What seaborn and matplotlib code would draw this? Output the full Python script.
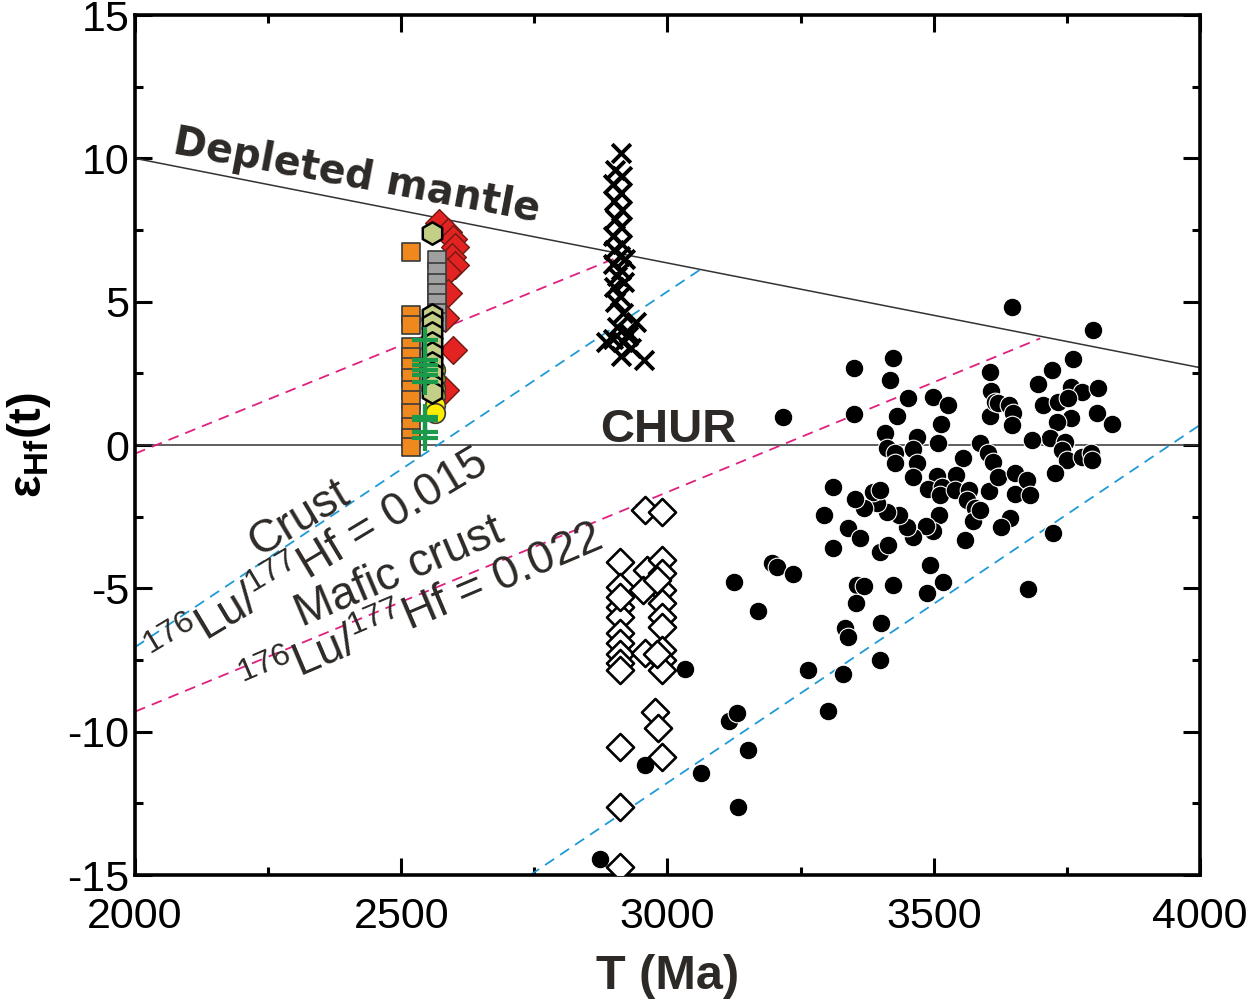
import numpy as np
import pandas as pd
import matplotlib
matplotlib.use("Agg")
import matplotlib.pyplot as plt
import seaborn as sns

# ---- reference curves (age in Ma, epsilon Hf) ----
dm_x = [2000, 4000]
dm_y = [10.0, 2.7]
chur_x = [2000, 4000]
chur_y = [0.0, 0.0]
crust_hi_x = [2000, 3060]
crust_hi_y = [-7.05, 6.1]
crust_lo_x = [2742, 4000]
crust_lo_y = [-15.0, 0.7]
mafic_hi_x = [2000, 2900]
mafic_hi_y = [-0.3, 6.5]
mafic_lo_x = [2000, 3700]
mafic_lo_y = [-9.3, 3.72]

# ---- detrital / inherited zircons (filled circles) ----
circ_x = [3350, 3424, 3418, 3217, 3350, 3452, 3499, 3527, 3431, 3514, 3408, 3468, 3508, 3412,
          3427, 3461, 3427, 3468, 3461, 3555, 3542, 3587, 3606, 3607, 3606, 3615, 3602, 3611,
          3623, 3604, 3506, 3489, 3515, 3512, 3540, 3566, 3562, 3577, 3574, 3559, 3510, 3499,
          3486, 3461, 3450, 3435, 3412, 3393, 3386, 3399, 3369, 3352, 3311, 3294, 3339, 3362,
          3311, 3399, 3414, 3196, 3206, 3236, 3356, 3369, 3424, 3493, 3517, 3487, 3354, 3170,
          3333, 3401,
          3647, 3799, 3761, 3722, 3696, 3758, 3778, 3808, 3705, 3733, 3752, 3758, 3731, 3806,
          3835, 3621, 3641, 3649, 3647, 3718, 3746, 3684, 3741, 3750, 3778, 3795, 3797, 3728,
          3621, 3653, 3653, 3675, 3681, 3643, 3626, 3724, 3677, 3587,
          2873, 2958, 3033, 3063, 3116, 3130, 3151, 3132, 3125, 3264, 3301, 3339, 3399, 3330]
circ_y = [2.69, 3.04, 2.27, 0.98, 1.08, 1.64, 1.68, 1.40, 1.01, 0.73, 0.42, 0.28, 0.07, -0.10,
          -0.28, -0.14, -0.63, -0.63, -1.11, -0.45, -1.04, 0.07, 2.55, 1.89, 1.01, 1.50, -0.28, -0.59,
          -1.11, -1.60, -1.08, -1.53, -1.46, -1.74, -1.57, -1.57, -1.92, -2.20, -2.65, -3.31, -2.44, -3.00,
          -2.82, -3.21, -2.86, -2.44, -2.34, -2.02, -1.64, -1.57, -2.20, -1.88, -1.46, -2.44, -2.89, -3.24,
          -3.59, -3.73, -3.49, -4.11, -4.25, -4.50, -4.88, -4.92, -4.88, -4.18, -4.78, -5.16, -5.51, -5.79,
          -6.38, -6.21,
          4.82, 4.01, 3.00, 2.62, 2.13, 2.03, 1.85, 1.99, 1.40, 1.50, 1.64, 0.94, 0.80, 1.12,
          0.73, 1.47, 1.40, 1.12, 0.70, 0.25, 0.11, 0.18, -0.17, -0.52, -0.42, -0.28, -0.52, -0.98,
          -1.11, -0.98, -1.71, -1.22, -1.74, -2.55, -2.86, -3.07, -5.02, -2.27,
          -14.44, -11.16, -7.81, -11.44, -9.63, -9.35, -10.64, -12.62, -4.78, -7.85, -9.28, -6.70, -7.50, -7.98]

# ---- open diamonds ----
odia_x = [2958, 2990, 2911, 2962, 2990, 2911, 2911, 2911, 2911, 2911, 2911, 2911, 2911, 2911,
          2990, 2990, 2990, 2990, 2990, 2990, 2990, 2990, 2954, 2980, 2958, 2980,
          2976, 2982, 2990, 2911, 2911, 2911]
odia_y = [-2.27, -2.34, -4.08, -4.36, -4.01, -4.95, -5.65, -6.00, -6.56, -6.90, -7.30, -7.60, -7.85, -5.30,
          -4.46, -5.06, -5.51, -6.00, -6.35, -7.15, -7.50, -7.85, -5.06, -4.70, -7.25, -7.30,
          -9.30, -9.87, -10.88, -10.53, -12.62, -14.72]

# ---- crosses ----
cross_x = [2912, 2902, 2915, 2898, 2912, 2900, 2915, 2902, 2912, 2898, 2915, 2900, 2910, 2920,
           2898, 2912, 2905, 2918, 2900, 2910, 2902, 2916, 2940, 2905, 2928, 2898, 2916, 2932,
           2912, 2955, 2885, 2925]
cross_y = [10.2, 9.6, 9.4, 9.1, 8.8, 8.5, 8.2, 7.9, 7.6, 7.3, 7.0, 6.8, 6.6, 6.5,
           6.3, 6.1, 5.9, 5.7, 5.5, 5.2, 5.0, 4.6, 4.3, 4.1, 3.9, 3.7, 3.6, 3.4,
           3.1, 2.95, 3.6, 3.8]

# ---- ~2.55 Ga cluster ----
orange_x = [2518] * 13
orange_y = [6.73, 4.54, 4.19, 3.42, 3.07, 2.72, 2.34, 1.92, 1.57, 1.12, 0.63, 0.25, -0.07]
grey_x = [2567] * 7
grey_y = [6.45, 6.04, 5.65, 5.30, 4.95, 4.62, 4.30]
hex_x = [2558] * 10
hex_y = [7.40, 4.53, 4.26, 3.91, 3.56, 3.21, 2.86, 2.51, 2.10, 1.85]
yellow_x = [2564] * 6
yellow_y = [2.60, 2.30, 2.00, 1.70, 1.40, 1.10]
plus_x = [2545] * 10
plus_y = [3.66, 2.97, 2.79, 2.62, 2.44, 2.20, 0.98, 0.87, 0.45, 0.25]
red_x = [2571, 2588, 2597, 2601, 2595, 2601, 2586, 2588, 2582, 2597, 2582]
red_y = [7.74, 7.43, 7.20, 6.90, 6.56, 6.28, 6.04, 5.30, 4.43, 3.31, 1.92]

x_ticks = [2000, 2500, 3000, 3500, 4000]
y_ticks = [-15, -10, -5, 0, 5, 10, 15]

sns.set_theme(style="ticks")
plt.rcParams["font.family"] = ["Liberation Sans", "DejaVu Sans"]
plt.rcParams["axes.unicode_minus"] = False
plt.rcParams["mathtext.fontset"] = "custom"
plt.rcParams["mathtext.rm"] = "Liberation Sans"
plt.rcParams["mathtext.bf"] = "Liberation Sans:bold"

fig = plt.figure(figsize=(12.48, 10.08), dpi=100)
ax = fig.add_axes([0.1082, 0.1319, 0.8533, 0.8532])

txt_col = "#2d2926"
pink = "#e0207f"
blue = "#1f9ad6"

ax.plot(dm_x, dm_y, color="#333333", lw=1.1, zorder=1)
ax.plot(chur_x, chur_y, color="#333333", lw=1.1, zorder=1)
for xs, ys, c in [(crust_hi_x, crust_hi_y, blue), (crust_lo_x, crust_lo_y, blue),
                  (mafic_hi_x, mafic_hi_y, pink), (mafic_lo_x, mafic_lo_y, pink)]:
    ax.plot(xs, ys, color=c, lw=1.3, ls=(0, (6, 4)), zorder=1)

df_c = pd.DataFrame({"t": circ_x, "e": circ_y})
sns.scatterplot(data=df_c, x="t", y="e", ax=ax, marker="o", s=180, color="black",
                edgecolor="white", linewidth=0.8, zorder=3)

df_d = pd.DataFrame({"t": odia_x, "e": odia_y})
sns.scatterplot(data=df_d, x="t", y="e", ax=ax, marker="D", s=190, facecolor="white",
                edgecolor="black", linewidth=1.9, zorder=3)

df_x = pd.DataFrame({"t": cross_x, "e": cross_y})
sns.scatterplot(data=df_x, x="t", y="e", ax=ax, marker="x", s=180, color="black",
                linewidth=2.8, zorder=3)

df_r = pd.DataFrame({"t": red_x, "e": red_y})
sns.scatterplot(data=df_r, x="t", y="e", ax=ax, marker="D", s=200, color="#e32322",
                edgecolor="#6e1a12", linewidth=1.0, zorder=4)
df_g = pd.DataFrame({"t": grey_x, "e": grey_y})
sns.scatterplot(data=df_g, x="t", y="e", ax=ax, marker="s", s=150, color="#a0a0a0",
                edgecolor="#3a3a3a", linewidth=1.2, zorder=5)
df_y = pd.DataFrame({"t": yellow_x, "e": yellow_y})
sns.scatterplot(data=df_y, x="t", y="e", ax=ax, marker="o", s=200, color="#ffec00",
                edgecolor="#3a3a3a", linewidth=1.2, zorder=5)
df_h = pd.DataFrame({"t": hex_x, "e": hex_y})
sns.scatterplot(data=df_h, x="t", y="e", ax=ax, marker="h", s=260, color="#c3cf86",
                edgecolor="black", linewidth=1.8, zorder=6)
df_o = pd.DataFrame({"t": orange_x, "e": orange_y})
sns.scatterplot(data=df_o, x="t", y="e", ax=ax, marker="s", s=160, color="#f0891d",
                edgecolor="#3a3a3a", linewidth=1.2, zorder=6)
df_p = pd.DataFrame({"t": plus_x, "e": plus_y})
sns.scatterplot(data=df_p, x="t", y="e", ax=ax, marker="+", s=340, color="#1c9a4c",
                linewidth=3.0, zorder=7)

# annotations
ax.text(2069, 10.19, "Depleted mantle", family="DejaVu Sans", fontweight="bold",
        fontsize=28.5, color=txt_col, rotation=-10.6, rotation_mode="anchor",
        ha="left", va="baseline", zorder=8)
ax.text(2873, 0.12, "CHUR", fontweight="bold", fontsize=34, color=txt_col,
        ha="left", va="baseline", zorder=8)
ax.text(2321, -2.93, "Crust", fontsize=33, color=txt_col, rotation=31,
        rotation_mode="anchor", ha="center", va="baseline", zorder=8)
ax.text(2357, -4.39, r"$^{176}$Lu/$^{177}$Hf = 0.015", fontsize=33, color=txt_col,
        rotation=31, rotation_mode="anchor", ha="center", va="baseline", zorder=8)
ax.text(2505, -4.85, "Mafic crust", fontsize=33, color=txt_col, rotation=23,
        rotation_mode="anchor", ha="center", va="baseline", zorder=8)
ax.text(2548, -6.24, r"$^{176}$Lu/$^{177}$Hf = 0.022", fontsize=33, color=txt_col,
        rotation=23, rotation_mode="anchor", ha="center", va="baseline", zorder=8)

ax.set_xlim(2000, 4000)
ax.set_ylim(-15, 15)
ax.set_xticks(x_ticks)
ax.set_yticks(y_ticks)
ax.set_xticks([2250, 2750, 3250, 3750], minor=True)
ax.set_yticks([-12.5, -7.5, -2.5, 2.5, 7.5, 12.5], minor=True)
ax.tick_params(which="both", direction="in", top=True, right=True, width=2.2, color="black")
ax.tick_params(which="major", length=12, labelsize=31, labelcolor="black")
ax.tick_params(which="minor", length=6)
ax.tick_params(axis="x", which="major", pad=16)
ax.tick_params(axis="y", which="major", pad=4)
for sp in ax.spines.values():
    sp.set_visible(True)
    sp.set_linewidth(2.6)
    sp.set_color("black")

ax.set_xlabel("T (Ma)", fontsize=35, fontweight="bold", labelpad=12, color=txt_col)
ax.set_ylabel(r"ε$_{\mathbf{Hf}}$(t)", fontsize=34, fontweight="bold", labelpad=10, color="black")

fig.savefig("out.png", dpi=100, facecolor="white")
